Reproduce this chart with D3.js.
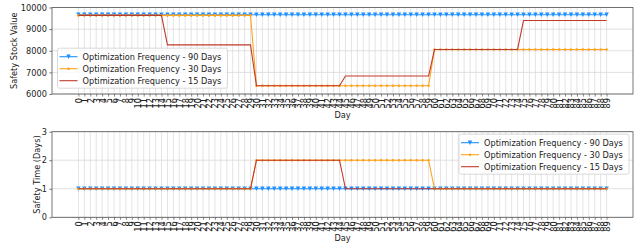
<!DOCTYPE html>
<html>
<head>
<meta charset="utf-8">
<script src="https://cdn.jsdelivr.net/npm/d3@7"></script>
<style>
  body { margin: 0; background: #fff; }
  svg { display: block; font-family: "DejaVu Sans", sans-serif; }
</style>
</head>
<body>
<div id="chart"></div>
<script>
const width = 640;
const height = 247;

// days 0..89
const days = d3.range(0, 90);

// safety stock per optimization frequency
const stock90 = days.map(() => 9665);
const stock30 = days.map((d) => (d < 30 ? 9635 : d < 60 ? 6380 : 8060));
const stock15 = days.map((d) =>
  d < 15 ? 9635 : d < 30 ? 8270 : d < 45 ? 6380 : d < 60 ? 6830 : d < 75 ? 8060 : 9400
);

// safety time in days
const time90 = days.map(() => 1);
const time30 = days.map((d) => (d >= 30 && d < 60 ? 2 : 1));
const time15 = days.map((d) => (d >= 30 && d < 45 ? 2 : 1));

const stockTicks = [6000, 7000, 8000, 9000, 10000];
const timeTicks = [0, 1, 2, 3];

const seriesNames = [
  "Optimization Frequency - 90 Days",
  "Optimization Frequency - 30 Days",
  "Optimization Frequency - 15 Days",
];
const colors = ["#1e90ff", "#ffa31a", "#c0392b"];
const markers = ["tri", "dot", null];

const fontSize = 8.2;
const left = 52;
const right = 633;

const svg = d3
  .select("#chart")
  .append("svg")
  .attr("width", width)
  .attr("height", height);

const x = d3.scaleLinear().domain([-4.45, 93.45]).range([left, right]);

const drawPanel = (cfg) => {
  const y = d3.scaleLinear().domain(cfg.domain).range([cfg.bottom, cfg.top]);
  const g = svg.append("g");

  // grid
  g.append("g")
    .selectAll("line")
    .data(days)
    .enter()
    .append("line")
    .attr("x1", (d) => x(d))
    .attr("x2", (d) => x(d))
    .attr("y1", cfg.top)
    .attr("y2", cfg.bottom)
    .attr("stroke", "#d8d8d8")
    .attr("stroke-width", 0.7);
  g.append("g")
    .selectAll("line")
    .data(cfg.ticks)
    .enter()
    .append("line")
    .attr("x1", left)
    .attr("x2", right)
    .attr("y1", (d) => y(d))
    .attr("y2", (d) => y(d))
    .attr("stroke", "#d8d8d8")
    .attr("stroke-width", 0.8);

  // series
  const line = d3
    .line()
    .x((d, i) => x(days[i]))
    .y((d) => y(d));
  cfg.series.forEach((vals, k) => {
    g.append("path")
      .attr("d", line(vals))
      .attr("fill", "none")
      .attr("stroke", colors[k])
      .attr("stroke-width", 1.1);
    if (markers[k] === "tri") {
      g.append("g")
        .selectAll("path")
        .data(vals)
        .enter()
        .append("path")
        .attr("d", (d, i) => {
          const cx = x(days[i]);
          const cy = y(d);
          return `M${cx - 2.2},${cy - 2.2}L${cx + 2.2},${cy - 2.2}L${cx},${cy + 2.2}Z`;
        })
        .attr("fill", colors[k]);
    } else if (markers[k] === "dot") {
      g.append("g")
        .selectAll("circle")
        .data(vals)
        .enter()
        .append("circle")
        .attr("cx", (d, i) => x(days[i]))
        .attr("cy", (d) => y(d))
        .attr("r", 1.3)
        .attr("fill", colors[k]);
    }
  });

  // frame
  g.append("rect")
    .attr("x", left)
    .attr("y", cfg.top)
    .attr("width", right - left)
    .attr("height", cfg.bottom - cfg.top)
    .attr("fill", "none")
    .attr("stroke", "#555")
    .attr("stroke-width", 0.8);

  // y axis
  const yAxis = g
    .append("g")
    .attr("transform", `translate(${left},0)`)
    .call(
      d3.axisLeft(y).tickValues(cfg.ticks).tickFormat(d3.format("d")).tickSize(2.6).tickPadding(2.5)
    );
  yAxis.select(".domain").remove();
  yAxis.selectAll("line").attr("stroke", "#555").attr("stroke-width", 0.8);
  yAxis.selectAll("text").attr("font-size", fontSize).attr("fill", "#222").attr("font-family", "DejaVu Sans");

  // x axis, rotated labels
  const xAxis = g
    .append("g")
    .attr("transform", `translate(0,${cfg.bottom})`)
    .call(d3.axisBottom(x).tickValues(days).tickSize(2.6).tickFormat(d3.format("d")));
  xAxis.select(".domain").remove();
  xAxis.selectAll("line").attr("stroke", "#555").attr("stroke-width", 0.7);
  xAxis
    .selectAll("text")
    .attr("font-size", fontSize)
    .attr("fill", "#222")
    .attr("font-family", "DejaVu Sans")
    .attr("text-anchor", "end")
    .attr("dy", null)
    .attr("y", 0)
    .attr("dominant-baseline", "central")
    .attr("transform", "translate(0,4) rotate(-90)");

  // labels
  g.append("text")
    .attr("x", (left + right) / 2)
    .attr("y", cfg.dayY)
    .attr("text-anchor", "middle")
    .attr("dominant-baseline", "central")
    .attr("font-size", fontSize)
    .attr("fill", "#222")
    .text("Day");
  g.append("text")
    .attr("transform", `translate(${cfg.labelX},${(cfg.top + cfg.bottom) / 2}) rotate(-90)`)
    .attr("text-anchor", "middle")
    .attr("dominant-baseline", "central")
    .attr("font-size", fontSize)
    .attr("fill", "#222")
    .text(cfg.ylabel);

  // legend
  const lg = g.append("g").attr("transform", `translate(${cfg.legend[0]},${cfg.legend[1]})`);
  lg.append("rect")
    .attr("width", 170)
    .attr("height", 40)
    .attr("rx", 2)
    .attr("fill", "rgba(255,255,255,0.8)")
    .attr("stroke", "#d0d0d0")
    .attr("stroke-width", 0.8);
  seriesNames.forEach((name, k) => {
    const cy = 8.5 + k * 12;
    lg.append("line")
      .attr("x1", 2)
      .attr("x2", 20)
      .attr("y1", cy)
      .attr("y2", cy)
      .attr("stroke", colors[k])
      .attr("stroke-width", 1.1);
    if (markers[k] === "tri") {
      lg.append("path")
        .attr("d", `M${11 - 2.2},${cy - 2.2}L${11 + 2.2},${cy - 2.2}L11,${cy + 2.2}Z`)
        .attr("fill", colors[k]);
    } else if (markers[k] === "dot") {
      lg.append("circle").attr("cx", 11).attr("cy", cy).attr("r", 1.3).attr("fill", colors[k]);
    }
    lg.append("text")
      .attr("x", 25)
      .attr("y", cy)
      .attr("dominant-baseline", "central")
      .attr("font-size", fontSize)
      .attr("fill", "#222")
      .text(name);
  });
};

drawPanel({
  top: 7.5,
  bottom: 94,
  domain: [6000, 10000],
  ticks: stockTicks,
  series: [stock90, stock30, stock15],
  ylabel: "Safety Stock Value",
  labelX: 14,
  dayY: 115,
  legend: [57.5, 48.2],
});

drawPanel({
  top: 131.7,
  bottom: 217.3,
  domain: [0, 3],
  ticks: timeTicks,
  series: [time90, time30, time15],
  ylabel: "Safety Time (Days)",
  labelX: 36.5,
  dayY: 238,
  legend: [459, 134.2],
});
</script>
</body>
</html>
